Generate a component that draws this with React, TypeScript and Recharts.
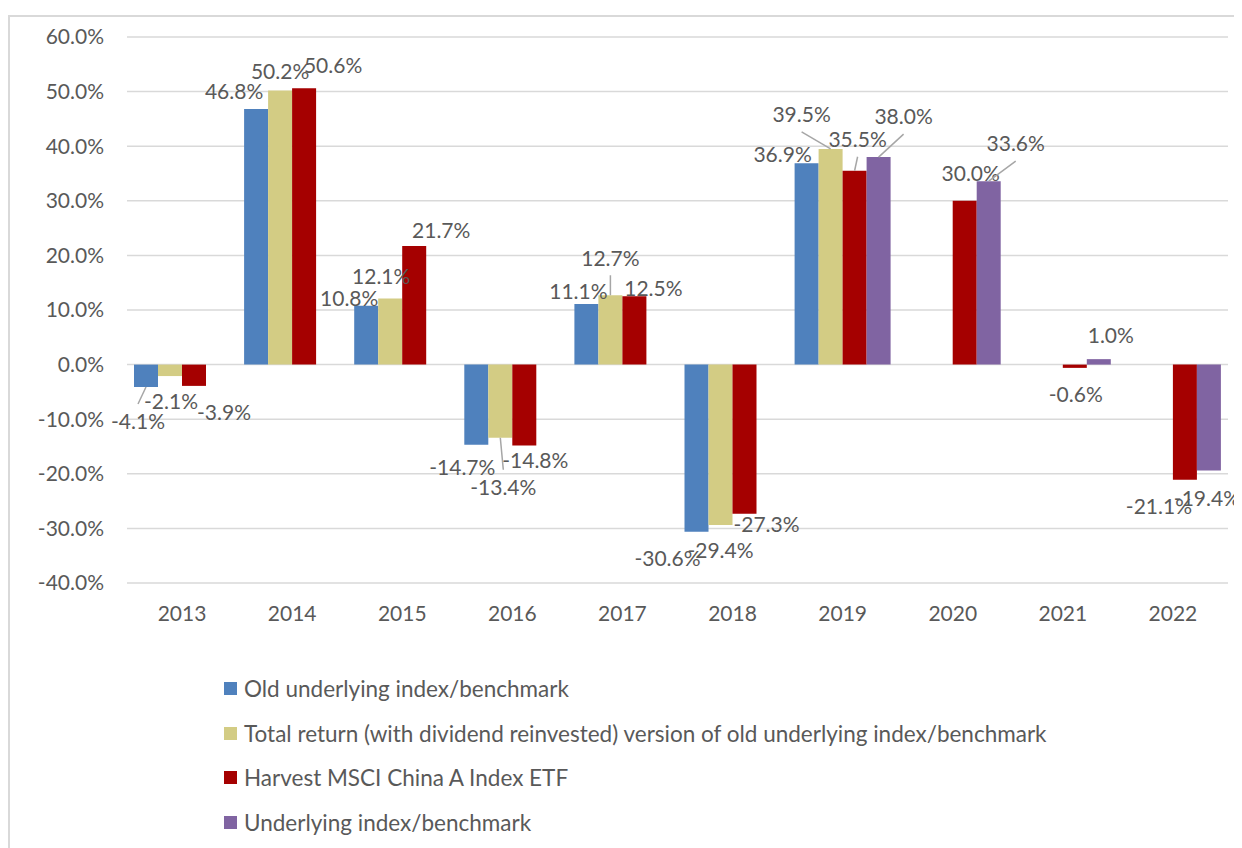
import * as React from "react";
import {
  BarChart,
  Bar,
  XAxis,
  YAxis,
  CartesianGrid,
  Legend,
  LabelList,
} from "recharts";

const years = ["2013", "2014", "2015", "2016", "2017", "2018", "2019", "2020", "2021", "2022"];

const oldIndex = [-4.1, 46.8, 10.8, -14.7, 11.1, -30.6, 36.9, null, null, null];
const totalReturn = [-2.1, 50.2, 12.1, -13.4, 12.7, -29.4, 39.5, null, null, null];
const harvestEtf = [-3.9, 50.6, 21.7, -14.8, 12.5, -27.3, 35.5, 30.0, -0.6, -21.1];
const underlying = [null, null, null, null, null, null, 38.0, 33.6, 1.0, -19.4];

const yTicks = [-40, -30, -20, -10, 0, 10, 20, 30, 40, 50, 60];

// label nudges [dx, dy, leader] relative to the default spot just past the bar end
type Nudge = [number, number, boolean?] | null;
const oldNudge: Nudge[] = [[-8, 21, true], [-22, -3], [-17, 7], [-14, 9], [-8, 2], [-29, 13], [-24, 6], null, null, null];
const totalNudge: Nudge[] = [[1, 12], [0, -5], [-9, -8], [3, 36, true], [0, -23, true], [0, 12], [-29, -20, true], null, null, null];
const harvestNudge: Nudge[] = [[30, 13], [29, -9], [27, -1], [11, 1], [19, 6], [22, -3], [3, -17, true], [6, -13], [1, 13], [-26, 13]];
const underlyingNudge: Nudge[] = [null, null, null, null, null, null, [25, -26, true], [27, -23, true], [12, -9], [-2, 14]];

const series = [
  { key: "old", name: "Old underlying index/benchmark", color: "#4F81BD", values: oldIndex, nudge: oldNudge },
  {
    key: "total",
    name: "Total return (with dividend reinvested) version of old underlying index/benchmark",
    color: "#D3CC84",
    values: totalReturn,
    nudge: totalNudge,
  },
  { key: "harvest", name: "Harvest MSCI China A Index ETF", color: "#A50000", values: harvestEtf, nudge: harvestNudge },
  { key: "underlying", name: "Underlying index/benchmark", color: "#8064A2", values: underlying, nudge: underlyingNudge },
];

const data = years.map((year, i) => ({
  year,
  old: oldIndex[i],
  total: totalReturn[i],
  harvest: harvestEtf[i],
  underlying: underlying[i],
}));

const textColor = "#595959";
const fontSize = 21;

// the label "value" is the year, so the point can be looked up even when null points are skipped
const makeLabel = (values: (number | null)[], nudge: Nudge[]) => (props: any) => {
  const i = years.indexOf(String(props.value));
  if (i < 0) return null;
  const value = values[i];
  if (value === null || value === undefined) return null;
  const vb = props.viewBox || props;
  const x = vb.x ?? props.x;
  const y = vb.y ?? props.y;
  const w = vb.width ?? props.width;
  const h = vb.height ?? props.height;
  const top = Math.min(y, y + h);
  const bottom = Math.max(y, y + h);
  const cx = x + w / 2;
  const pos = value >= 0;
  const n = nudge[i] || [0, 0];
  const lx = cx + n[0];
  const ly = (pos ? top - 14 : bottom + 14) + n[1];
  return (
    <g>
      {n[2] && (
        <line
          x1={cx}
          y1={pos ? top : bottom}
          x2={lx}
          y2={pos ? ly + 17 : ly - 18}
          stroke="#A6A6A6"
          strokeWidth={1.5}
        />
      )}
      <text x={lx} y={ly} dy="0.35em" textAnchor="middle" fill={textColor} fontSize={fontSize}>
        {value.toFixed(1) + "%"}
      </text>
    </g>
  );
};

const renderLegend = () => (
  <div
    style={{
      height: 214,
      paddingTop: 33,
      paddingLeft: 214,
      boxSizing: "border-box",
      color: textColor,
      fontSize: 22.5,
    }}
  >
    {series.map((s) => (
      <div key={s.key} style={{ height: 44.7, display: "flex", alignItems: "center" }}>
        <span style={{ width: 13, height: 13, background: s.color, marginRight: 7, display: "inline-block" }} />
        <span>{s.name}</span>
      </div>
    ))}
  </div>
);

export default function App() {
  return (
    <div
      style={{
        marginTop: 7,
        width: 1234,
        height: 833,
        borderTop: "2px solid #D9D9D9",
        borderLeft: "2px solid #D9D9D9",
        fontFamily: "Lato, 'Open Sans', sans-serif",
        background: "#fff",
      }}
    >
      <BarChart
        width={1232}
        height={830}
        data={data}
        margin={{ top: 20, right: 14, left: 0, bottom: 0 }}
        barSize={24}
        barGap={0}
        style={{ overflow: "visible" }}
      >
        <CartesianGrid vertical={false} stroke="#D9D9D9" strokeWidth={1.5} />
        <XAxis
          dataKey="year"
          axisLine={false}
          tickLine={false}
          tickSize={0}
          tickMargin={23}
          height={50}
          tick={{ fill: textColor, fontSize }}
        />
        <YAxis
          domain={[-40, 60]}
          ticks={yTicks}
          width={117}
          axisLine={false}
          tickLine={false}
          tickSize={0}
          tickMargin={23}
          tickFormatter={(v: number) => v.toFixed(1) + "%"}
          tick={{ fill: textColor, fontSize }}
        />
        <Legend verticalAlign="bottom" align="left" content={renderLegend} />
        {series.map((s) => (
          <Bar key={s.key} dataKey={s.key} name={s.name} fill={s.color} isAnimationActive={false}>
            <LabelList
              valueAccessor={(entry: any) => entry?.payload?.year}
              content={makeLabel(s.values, s.nudge)}
            />
          </Bar>
        ))}
      </BarChart>
    </div>
  );
}
